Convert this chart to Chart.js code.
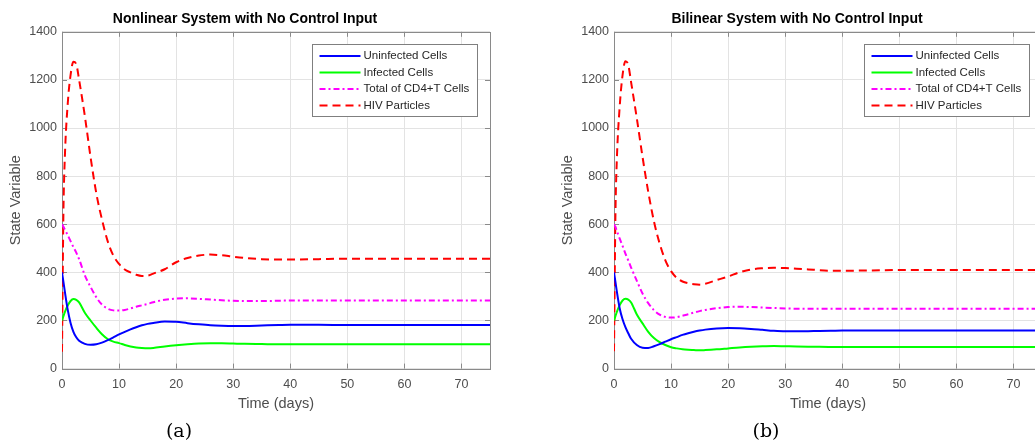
<!DOCTYPE html>
<html>
<head>
<meta charset="utf-8">
<script src="https://cdn.jsdelivr.net/npm/chart.js@4.4.0/dist/chart.umd.min.js"></script>
<style>
  html, body { margin: 0; padding: 0; background: #fff; }
  #wrap { position: relative; width: 1035px; height: 444px; overflow: hidden; }
  canvas { position: absolute; top: 0; }
  .cap { position: absolute; top: 419px; font-family: 'DejaVu Serif', serif; font-size: 19px; color: #000; transform: translateX(-50%); }
</style>
</head>
<body>
<div id="wrap">
  <canvas id="chartA" width="517" height="444" style="left:0"></canvas>
  <canvas id="chartB" width="517" height="444" style="left:552px"></canvas>
  <div class="cap" style="left:179px">(a)</div>
  <div class="cap" style="left:766px">(b)</div>
</div>
<script>
// time samples (days)
var timeDays = [0, 0.25, 0.5, 1, 1.5, 2, 2.5, 3, 4, 5, 6, 7, 8, 9, 10, 11, 12, 13, 14, 15, 16, 18, 20, 22, 24, 26, 28, 30, 32, 35, 38, 40, 45, 50, 55, 60, 65, 70, 75];

// (a) nonlinear system
var nlUninfected = [400, 360, 320, 245, 190, 153, 130, 116, 103, 99, 101, 108, 118, 130, 142, 153, 163, 172, 180, 186, 190, 196, 195, 189, 184, 180, 178, 177, 177, 179, 181, 182, 182, 181, 181, 181, 181, 181, 181];
var nlInfected = [200, 218, 235, 262, 281, 289, 286, 275, 232, 200, 170, 143, 123, 112, 106, 98, 92, 88, 86, 85, 86, 92, 97, 101, 104, 105, 105, 104, 103, 102, 101, 101, 101, 101, 101, 101, 101, 101, 101];
var nlTotal = [600, 590, 578, 555, 530, 505, 482, 455, 388, 340, 297, 266, 249, 242, 241, 244, 250, 257, 263, 269, 276, 286, 291, 292, 290, 287, 284, 282, 281, 281, 282, 283, 283, 283, 283, 283, 283, 283, 283];
var nlHiv = [70, 650, 880, 1100, 1220, 1275, 1265, 1200, 1050, 880, 730, 620, 530, 470, 435, 412, 400, 390, 385, 386, 395, 413, 442, 460, 470, 474, 471, 465, 460, 455, 453, 453, 455, 457, 457, 457, 457, 457, 457];

// (b) bilinear system
var blUninfected = [400, 360, 320, 250, 205, 172, 147, 124, 98, 87, 86, 93, 102, 112, 122, 131, 140, 147, 153, 158, 162, 167, 169, 168, 165, 161, 157, 155, 155, 156, 157, 158, 158, 158, 158, 158, 158, 158, 158];
var blInfected = [200, 218, 236, 264, 283, 290, 287, 275, 225, 188, 153, 127, 110, 98, 89, 84, 80, 78, 77, 76, 77, 80, 84, 88, 91, 93, 94, 93, 92, 91, 90, 90, 90, 90, 90, 90, 90, 90, 90];
var blTotal = [600, 588, 572, 540, 510, 478, 450, 420, 365, 312, 272, 243, 224, 215, 212, 214, 220, 226, 233, 239, 244, 251, 256, 257, 256, 254, 252, 250, 249, 249, 249, 249, 249, 249, 249, 249, 249, 249, 249];
var blHiv = [72, 640, 870, 1090, 1220, 1278, 1262, 1190, 1040, 880, 735, 612, 520, 450, 405, 377, 362, 355, 351, 349, 353, 368, 383, 400, 412, 417, 419, 418, 415, 411, 407, 407, 408, 410, 410, 410, 410, 410, 410];

var seriesLabels = ['Uninfected Cells', 'Infected Cells', 'Total of CD4+T Cells', 'HIV Particles'];
var seriesColors = ['#0000ff', '#00ff00', '#ff00ff', '#ff0000'];
var seriesDash = [[], [], [6, 3, 2, 3], [8, 5]];
var xTicks = [0, 10, 20, 30, 40, 50, 60, 70];
var yTicks = [0, 200, 400, 600, 800, 1000, 1200, 1400];

var FONT = "'Liberation Sans', Arial, sans-serif";

// box around the axes plus inward tick marks (matlab look)
var boxPlugin = {
  id: 'matBox',
  beforeDatasetsDraw: function(chart) {
    var a = chart.chartArea, c = chart.ctx;
    var xs = chart.scales.x, ys = chart.scales.y;
    c.save();
    c.strokeStyle = '#8a8a8a';
    c.lineWidth = 1;
    c.beginPath();
    xTicks.forEach(function(v) {
      var px = Math.round(xs.getPixelForValue(v)) + 0.5;
      c.moveTo(px, a.bottom); c.lineTo(px, a.bottom - 5);
      c.moveTo(px, a.top); c.lineTo(px, a.top + 5);
    });
    yTicks.forEach(function(v) {
      var py = Math.round(ys.getPixelForValue(v)) + 0.5;
      c.moveTo(a.left, py); c.lineTo(a.left + 5, py);
      c.moveTo(a.right, py); c.lineTo(a.right - 5, py);
    });
    c.stroke();
    c.strokeRect(Math.round(a.left) + 0.5, Math.round(a.top) + 0.5, Math.round(a.right - a.left), Math.round(a.bottom - a.top));
    c.restore();
  }
};

// legend drawn inside the top right corner of the axes
var insetLegend = {
  id: 'insetLegend',
  afterDraw: function(chart) {
    var a = chart.chartArea, c = chart.ctx;
    var w = 165, h = 72, rowH = 16.5;
    var x0 = Math.round(a.right - 13 - w) + 0.5, y0 = Math.round(a.top + 12) + 0.5;
    c.save();
    c.fillStyle = '#fff';
    c.fillRect(x0, y0, w, h);
    c.strokeStyle = '#7f7f7f';
    c.lineWidth = 1;
    c.strokeRect(x0, y0, w, h);
    c.font = '11.5px ' + FONT;
    c.textBaseline = 'middle';
    chart.data.datasets.forEach(function(ds, i) {
      var yy = y0 + 11.5 + i * rowH;
      c.strokeStyle = ds.borderColor;
      c.lineWidth = 2;
      c.setLineDash(ds.borderDash || []);
      c.beginPath();
      c.moveTo(x0 + 7, yy); c.lineTo(x0 + 48, yy);
      c.stroke();
      c.setLineDash([]);
      c.fillStyle = '#262626';
      c.fillText(ds.label, x0 + 51, yy);
    });
    c.restore();
  }
};

function makeChart(id, title, series) {
  var datasets = series.map(function(vals, i) {
    return {
      label: seriesLabels[i],
      data: timeDays.map(function(t, k) { return { x: t, y: vals[k] }; }),
      borderColor: seriesColors[i],
      backgroundColor: seriesColors[i],
      borderDash: seriesDash[i],
      borderWidth: 2,
      pointRadius: 0,
      cubicInterpolationMode: 'monotone',
      fill: false
    };
  });
  return new Chart(document.getElementById(id).getContext('2d'), {
    type: 'line',
    data: { datasets: datasets },
    plugins: [boxPlugin, insetLegend],
    options: {
      responsive: false,
      animation: false,
      devicePixelRatio: 1,
      layout: { padding: { left: 0, right: 27, top: 0, bottom: 29 } },
      plugins: {
        legend: { display: false },
        tooltip: { enabled: false },
        title: {
          display: true,
          text: title,
          color: '#000',
          padding: { top: 11, bottom: 4 },
          font: { family: FONT, size: 14, weight: 'bold' }
        }
      },
      scales: {
        x: {
          type: 'linear',
          min: 0,
          max: 75,
          border: { display: false },
          grid: { color: '#e3e3e3', drawTicks: false },
          ticks: { stepSize: 10, includeBounds: false, padding: 8, color: '#4d4d4d', maxRotation: 0, font: { family: FONT, size: 12.5 },
                   callback: function(v) { return String(v); } },
          title: { display: true, text: 'Time (days)', color: '#4d4d4d', padding: { top: -4, bottom: 2 }, font: { family: FONT, size: 14.5 } }
        },
        y: {
          min: 0,
          max: 1400,
          border: { display: false },
          grid: { color: '#e3e3e3', drawTicks: false },
          ticks: { stepSize: 200, padding: 5, color: '#4d4d4d', font: { family: FONT, size: 12.5 },
                   callback: function(v) { return String(v); } },
          title: { display: true, text: 'State Variable', color: '#4d4d4d', padding: { top: 7, bottom: 4 }, font: { family: FONT, size: 14.5 } },
          afterFit: function(scale) { scale.width = 62; }
        }
      }
    }
  });
}

var chartA = makeChart('chartA', 'Nonlinear System with No Control Input', [nlUninfected, nlInfected, nlTotal, nlHiv]);
var chartB = makeChart('chartB', 'Bilinear System with No Control Input', [blUninfected, blInfected, blTotal, blHiv]);
</script>
</body>
</html>
